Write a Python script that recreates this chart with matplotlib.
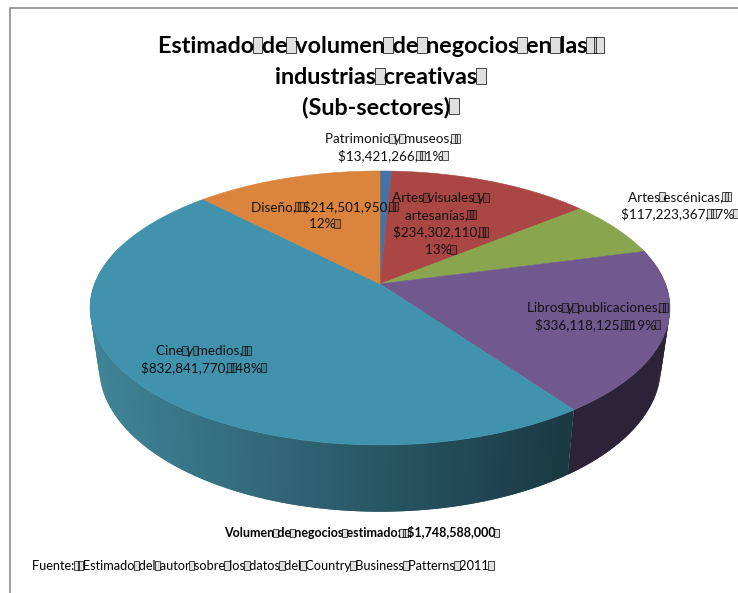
import numpy as np
import matplotlib
matplotlib.use('Agg')
import matplotlib.pyplot as plt
from matplotlib.colors import to_rgb
from matplotlib.patches import Rectangle

plt.rcParams['font.family'] = ['Lato', 'DejaVu Sans']

sectors = ['Patrimonio y museos', 'Artes visuales y artesanías', 'Artes escénicas',
           'Libros y publicaciones', 'Cine y medios', 'Diseño']
values = [13421266, 234302110, 117223367, 336118125, 832841770, 214501950]
colors = ['#4572A7', '#AA4643', '#89A54E', '#71588F', '#4193AD', '#DB843D']
wall_colors = ['#2a4466', '#662a28', '#52632e', '#2d2338', '#1b3d48', '#83501f']

title_lines = ['Estimado de volumen de negocios en las  ', 'industrias creativas ', '(Sub-sectores) ']
label_lines = [
    ['Patrimonio y museos,  ', '$13,421,266,  1% '],
    ['Artes visuales y ', 'artesanías,  ', '$234,302,110,  ', '13% '],
    ['Artes escénicas,  ', '$117,223,367,  7% '],
    ['Libros y publicaciones,  ', '$336,118,125,  19% '],
    ['Cine y medios,  ', '$832,841,770,  48% '],
    ['Diseño,  $214,501,950,  ', '12% '],
]
label_x = [392, 440, 679, 597, 203, 324]
label_y = [143, 202, 201, 312, 355, 211]
total_text = 'Volumen de negocios estimado:  $1,748,588,000 '
source_text = 'Fuente:  Estimado del autor sobre los datos del Country Business Patterns 2011 '

CX = 380
TILT = 0.175
WIDE_SPACE = '\u2004'
NARROW_SPACE = '\u2005'


# disc in perspective, angle measured clockwise from the top
def project(theta, y0, a, b):
    px = np.sin(theta)
    py = np.cos(theta)
    w = 1 + TILT * py
    return CX + a * px / w, y0 - b * py / w


fig = plt.figure(figsize=(7.38, 5.93), dpi=100)
ax = fig.add_axes([0, 0, 1, 1])
ax.set_xlim(0, 738)
ax.set_ylim(593, 0)
ax.axis('off')
renderer = fig.canvas.get_renderer()


def text_width(s, **kw):
    t = ax.text(0, 0, s, **kw)
    w = t.get_window_extent(renderer).width
    t.remove()
    return w


# one line of text, with a small missing-glyph box over every space
def draw_line(x, y, line, size, weight='normal', ha='center', space=NARROW_SPACE, color='#111111'):
    s = line.replace(' ', space)
    kw = dict(fontsize=size, fontweight=weight)
    bar = text_width('|', **kw)
    total = text_width(s + '|', **kw) - bar
    left = x - total / 2 if ha == 'center' else x
    ax.text(left, y, s, ha='left', va='baseline', color=color, zorder=3, **kw)
    em = size * 100 / 72
    box_w, box_h = 0.42 * em, 0.68 * em
    gap = text_width(space + '|', **kw) - bar
    for i, ch in enumerate(s):
        if ch == space:
            pos = left + text_width(s[:i + 1] + '|', **kw) - bar - gap / 2
            ax.add_patch(Rectangle((pos - box_w / 2, y - box_h), box_w, box_h,
                                   facecolor=(0, 0, 0, 0.12), edgecolor=color, lw=0.5, zorder=3))


fractions = np.array(values) / sum(values)
edges = np.concatenate([[0], np.cumsum(fractions)]) * 2 * np.pi
wall_left = to_rgb('#3F8397')
wall_right = to_rgb('#1A3A44')

# front wall, each facet overlaps the next so no seams show
for i in range(len(values)):
    th = np.linspace(edges[i], edges[i + 1], max(int(fractions[i] * 400), 2))
    for j in range(len(th) - 1)[::-1]:
        t0 = th[j]
        t1 = th[min(j + 2, len(th) - 1)]
        if np.cos(t0) > 0.3:
            continue
        x_top, y_top = project(np.array([t0, t1]), 284, 285.5, 132.8)
        x_bot, y_bot = project(np.array([t1, t0]), 342, 276.5, 140)
        if i == 4:
            # teal wall gets lighter towards its left end
            k = np.clip((x_top[0] - 100) / 470, 0, 1)
            shade = tuple(np.array(wall_left) * (1 - k) + np.array(wall_right) * k)
        else:
            shade = wall_colors[i]
        ax.fill(np.concatenate([x_top, x_bot]), np.concatenate([y_top, y_bot]),
                color=shade, lw=0, zorder=1)

# top face
for i in range(len(values)):
    th = np.linspace(edges[i], edges[i + 1], 120)
    xs, ys = project(th, 284, 285.5, 132.8)
    ax.fill(np.r_[CX, xs], np.r_[284, ys], color=colors[i], lw=0.4, zorder=2)

for lines, x, y in zip(label_lines, label_x, label_y):
    for n, line in enumerate(lines):
        draw_line(x, y + n * 17.3, line, 9.7)

for n, line in enumerate(title_lines):
    draw_line(CX, 53 + n * 30.5, line, 16.8, weight='bold', space=WIDE_SPACE, color='black')

draw_line(361, 537, total_text, 9, weight='bold', color='black')
draw_line(32, 570, source_text, 9.2, ha='left', space=WIDE_SPACE, color='black')

# outer frame of the chart area
ax.plot([9.5, 9.5, 738], [593, 7.5, 7.5], color='#8c8c8c', lw=1.2)

fig.savefig('out.png', dpi=100)
